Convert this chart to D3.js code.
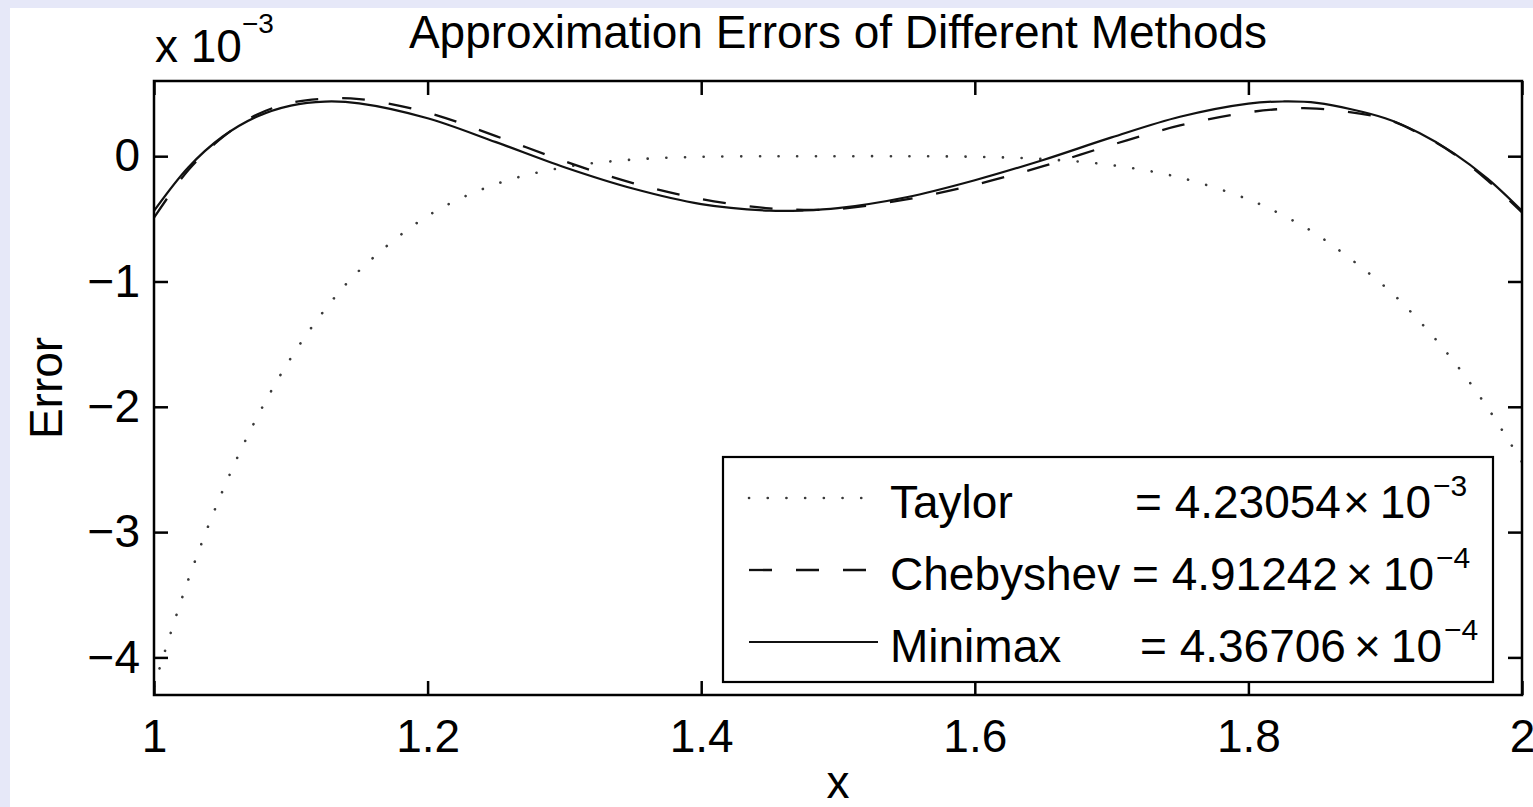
<!DOCTYPE html>
<html>
<head>
<meta charset="utf-8">
<script src="https://cdn.jsdelivr.net/npm/d3@7"></script>
<style>
  html, body { margin: 0; padding: 0; background: #e6e8f8; }
  svg { display: block; }
  text { font-family: "Liberation Sans", Arial, Helvetica, sans-serif; fill: #000; }
</style>
</head>
<body>
<svg id="chart" width="1533" height="807"></svg>
<script>
// Sample points on [1, 2]; errors are given in units of 1e-3
const xValues = [1, 1.025, 1.05, 1.075, 1.1, 1.125, 1.15, 1.2, 1.25, 1.3, 1.35, 1.4,
  1.45, 1.475, 1.5, 1.55, 1.6, 1.65, 1.7, 1.75, 1.8, 1.825, 1.85, 1.9, 1.925, 1.95, 1.975, 2];

const taylorErr = [-4.2305, -3.382, -2.675, -2.0905, -1.6116, -1.2238, -0.9131, -0.4768,
  -0.2227, -0.0884, -0.0272, -0.0052, -0.0003, 0, 0, -0.0003, -0.0047, -0.0232, -0.0714,
  -0.1704, -0.3451, -0.471, -0.6252, -1.0433, -1.316, -1.6357, -2.010, -2.4414];

const chebyshevErr = [-0.4912, -0.112, 0.150, 0.330, 0.425, 0.458, 0.456, 0.348, 0.160,
  -0.040, -0.215, -0.342, -0.417, -0.428, -0.422, -0.345, -0.228, -0.080, 0.090, 0.245,
  0.350, 0.377, 0.380, 0.298, 0.180, 0.020, -0.195, -0.448];

const minimaxErr = [-0.4367, -0.090, 0.155, 0.315, 0.404, 0.436, 0.422, 0.303, 0.112,
  -0.088, -0.258, -0.382, -0.435, -0.4335, -0.415, -0.328, -0.192, -0.030, 0.150, 0.315,
  0.420, 0.4366, 0.425, 0.303, 0.185, 0.025, -0.181, -0.4367];

const xTicks = [1, 1.2, 1.4, 1.6, 1.8, 2];
const xTickLabels = ["1", "1.2", "1.4", "1.6", "1.8", "2"];
const yTicks = [-4, -3, -2, -1, 0];
const yTickLabels = ["\u22124", "\u22123", "\u22122", "\u22121", "0"];

const legendNames = ["Taylor", "Chebyshev", "Minimax"];
const legendMantissa = ["4.23054", "4.91242", "4.36706"];
const legendExponent = ["\u22123", "\u22124", "\u22124"];

const titleText = "Approximation Errors of Different Methods";
const xLabel = "x";
const yLabel = "Error";

// ---- layout ----
const W = 1533, H = 807;
const FONT = 46;
const box = { left: 154, right: 1522, top: 81, bottom: 695 };

const svg = d3.select("#chart");
svg.append("rect").attr("width", W).attr("height", H).attr("fill", "#e6e8f8");
svg.append("rect").attr("x", 10).attr("y", 8).attr("width", W - 10).attr("height", H - 8)
  .attr("fill", "#ffffff");

const x = d3.scaleLinear().domain([1, 2]).range([box.left, box.right]);
const y = d3.scaleLinear().domain([-4.3, 0.6]).range([box.bottom, box.top]);

svg.append("defs").append("clipPath").attr("id", "plotClip")
  .append("rect").attr("x", box.left).attr("y", box.top)
  .attr("width", box.right - box.left).attr("height", box.bottom - box.top);

// ---- curves ----
const line = d3.line()
  .x((d, i) => x(xValues[i]))
  .y(d => y(d))
  .curve(d3.curveCatmullRom.alpha(0.5));

const curves = svg.append("g").attr("clip-path", "url(#plotClip)");

const styles = [
  { data: taylorErr, dash: "0.1 18.6", width: 2.6, color: "#3a3a3a", cap: "round" },
  { data: chebyshevErr, dash: "23 24", width: 2.3, color: "#111", cap: "butt" },
  { data: minimaxErr, dash: null, width: 2.2, color: "#111", cap: "butt" }
];

styles.forEach(s => {
  curves.append("path")
    .attr("d", line(s.data))
    .attr("fill", "none")
    .attr("stroke", s.color)
    .attr("stroke-width", s.width)
    .attr("stroke-linecap", s.cap)
    .attr("stroke-dasharray", s.dash);
});

// ---- axes (ticks inside on all four sides) ----
const TICK = 14;
const fmtX = d => xTickLabels[xTicks.indexOf(d)];
const fmtY = d => yTickLabels[yTicks.indexOf(d)];

const gBottom = svg.append("g").attr("transform", `translate(0,${box.bottom})`)
  .call(d3.axisBottom(x).tickValues(xTicks).tickFormat(fmtX)
    .tickSizeInner(-TICK).tickSizeOuter(0).tickPadding(24));
const gTop = svg.append("g").attr("transform", `translate(0,${box.top})`)
  .call(d3.axisTop(x).tickValues(xTicks).tickFormat("")
    .tickSizeInner(-TICK).tickSizeOuter(0));
const gLeft = svg.append("g").attr("transform", `translate(${box.left},0)`)
  .call(d3.axisLeft(y).tickValues(yTicks).tickFormat(fmtY)
    .tickSizeInner(-TICK).tickSizeOuter(0).tickPadding(14));
const gRight = svg.append("g").attr("transform", `translate(${box.right},0)`)
  .call(d3.axisRight(y).tickValues(yTicks).tickFormat("")
    .tickSizeInner(-TICK).tickSizeOuter(0));

[gBottom, gTop, gLeft, gRight].forEach(g => {
  g.select(".domain").remove();
  g.selectAll(".tick line").attr("stroke", "#000").attr("stroke-width", 2.5);
  g.selectAll(".tick text").attr("font-size", FONT)
    .attr("font-family", "'Liberation Sans', Arial, Helvetica, sans-serif")
    .attr("fill", "#000");
});

svg.append("rect")
  .attr("x", box.left).attr("y", box.top)
  .attr("width", box.right - box.left).attr("height", box.bottom - box.top)
  .attr("fill", "none").attr("stroke", "#000").attr("stroke-width", 2.5);

// exponent label above the y axis
const expo = svg.append("text").attr("x", 155).attr("y", 62).attr("font-size", FONT);
expo.append("tspan").text("x 10");
expo.append("tspan").attr("dy", -29).attr("font-size", 28).text("\u22123");

// ---- titles ----
svg.append("text").attr("x", (box.left + box.right) / 2).attr("y", 48)
  .attr("text-anchor", "middle").attr("font-size", FONT).text(titleText);
svg.append("text").attr("x", (box.left + box.right) / 2).attr("y", 798)
  .attr("text-anchor", "middle").attr("font-size", FONT).text(xLabel);
svg.append("text").attr("transform", `translate(62,${(box.top + box.bottom) / 2}) rotate(-90)`)
  .attr("text-anchor", "middle").attr("font-size", FONT).text(yLabel);

// ---- legend ----
const leg = { left: 723, top: 457, right: 1493, bottom: 682 };
svg.append("rect")
  .attr("x", leg.left).attr("y", leg.top)
  .attr("width", leg.right - leg.left).attr("height", leg.bottom - leg.top)
  .attr("fill", "#fff").attr("stroke", "#000").attr("stroke-width", 2.2);

const rowBase = [518, 590, 662];
const eqX = [1135, 1132, 1140];
legendNames.forEach((name, i) => {
  const s = styles[i];
  const sy = rowBase[i] - 20;
  svg.append("line")
    .attr("x1", 749).attr("x2", 878).attr("y1", sy).attr("y2", sy)
    .attr("stroke", s.color).attr("stroke-width", s.width)
    .attr("stroke-linecap", s.cap).attr("stroke-dasharray", s.dash);
  svg.append("text").attr("x", 890).attr("y", rowBase[i])
    .attr("font-size", FONT).text(name);
  const t = svg.append("text").attr("x", eqX[i]).attr("y", rowBase[i]).attr("font-size", FONT);
  t.append("tspan").text("= " + legendMantissa[i]);
  t.append("tspan").attr("dx", i === 0 ? 2 : 8).text("\u00d7");
  t.append("tspan").attr("dx", 10).text("10");
  t.append("tspan").attr("dy", -22).attr("dx", 2).attr("font-size", 30).text(legendExponent[i]);
});
</script>
</body>
</html>
